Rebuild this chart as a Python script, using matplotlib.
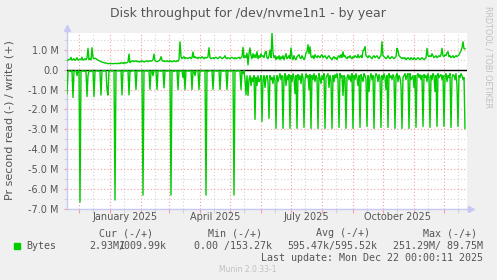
"""
Munin style disk throughput graph (by year)
"""
import numpy as np
import matplotlib.pyplot as plt
import matplotlib.dates as mdates
from matplotlib.ticker import FixedLocator, FuncFormatter

W, H = 497, 280

# first daily sample of the graph, one sample per day
start = np.datetime64('2024-11-19')

# bytes written per second, in M (one row = one week)
write_mb = [
    0.45, 0.48, 0.52, 0.50, 0.62, 0.48, 0.50,
    0.55, 0.47, 0.50, 0.60, 0.48, 0.50, 0.52,
    0.50, 0.62, 0.48, 0.50, 0.55, 0.50, 0.58,
    1.07, 0.50, 0.55, 0.50, 1.10, 0.60, 0.55,
    0.58, 0.55, 0.50, 0.48, 0.45, 0.42, 0.40,
    0.38, 0.36, 0.35, 0.33, 0.33, 0.32, 0.30,
    0.31, 0.30, 0.30, 0.31, 0.30, 0.30, 0.32,
    0.30, 0.31, 0.30, 0.33, 0.30, 0.35, 0.32,
    0.35, 0.30, 0.36, 0.33, 0.35, 0.38, 0.78,
    0.35, 0.40, 0.42, 0.45, 0.40, 0.42, 0.45,
    0.40, 0.42, 0.38, 0.42, 0.40, 0.45, 0.42,
    0.38, 0.40, 0.42, 0.45, 0.40, 0.42, 0.45,
    0.42, 0.45, 0.50, 0.78, 0.45, 0.42, 0.40,
    0.42, 0.45, 0.50, 0.65, 0.48, 0.42, 0.45,
    0.40, 0.42, 0.45, 0.40, 0.42, 0.45, 0.40,
    0.42, 0.40, 0.45, 0.42, 0.40, 0.45, 0.42,
    0.50, 1.40, 0.65, 0.55, 0.60, 0.65, 0.55,
    0.60, 0.58, 0.55, 0.60, 0.62, 0.55, 0.60,
    0.89, 0.60, 0.65, 0.58, 0.60, 0.55, 0.62,
    0.60, 0.58, 0.65, 0.60, 0.55, 0.62, 0.58,
    0.60, 0.65, 1.10, 0.60, 0.55, 0.58, 0.60,
    0.55, 0.60, 0.62, 0.58, 0.55, 0.60, 0.65,
    0.60, 0.55, 0.58, 0.62, 0.70, 0.58, 0.55,
    0.60, 0.58, 0.55, 0.60, 0.62, 0.58, 0.55,
    0.60, 0.55, 0.58, 0.60, 0.62, 0.55, 0.60,
    0.65, 1.12, 0.60, 0.70, 0.60, 0.83, 0.24,
    0.80, 1.09, 0.70, 0.55, 0.80, 0.60, 0.75,
    0.60, 0.90, 0.55, 0.70, 0.60, 0.80, 0.65,
    0.70, 0.60, 0.85, 0.92, 0.60, 0.55, 0.70,
    0.98, 0.60, 1.84, 0.85, 0.60, 0.70, 0.50,
    0.65, 0.55, 0.70, 0.50, 0.65, 0.55, 0.70,
    0.50, 0.65, 0.80, 0.55, 0.60, 0.70, 0.55,
    1.09, 0.65, 0.50, 0.70, 0.55, 0.50, 0.65,
    0.70, 0.75, 0.60, 0.55, 0.70, 0.60, 0.50,
    0.60, 0.85, 0.90, 1.25, 0.80, 1.15, 0.65,
    0.60, 0.70, 0.55, 0.75, 0.65, 0.60, 0.70,
    0.65, 0.60, 0.70, 0.75, 0.60, 0.65, 0.70,
    0.60, 0.55, 0.65, 0.70, 0.60, 0.55, 0.50,
    0.60, 0.65, 0.55, 0.60, 0.50, 0.65, 0.70,
    0.60, 0.75, 0.60, 0.90, 0.65, 0.70, 0.60,
    0.55, 0.65, 0.60, 0.70, 0.60, 0.55, 0.65,
    0.60, 0.70, 0.65, 0.60, 0.75, 0.60, 0.65,
    0.70, 0.60, 0.95, 1.00, 1.15, 0.70, 0.65,
    0.60, 0.70, 0.65, 0.60, 0.55, 0.65, 0.70,
    0.60, 0.65, 0.70, 0.60, 0.55, 0.65, 0.70,
    1.40, 0.70, 0.65, 0.60, 0.55, 0.60, 0.70,
    0.60, 0.55, 0.60, 0.65, 0.60, 0.55, 0.60,
    0.65, 1.07, 0.95, 0.70, 0.65, 0.60, 0.55,
    0.60, 0.55, 0.60, 0.50, 0.55, 0.60, 0.55,
    0.50, 0.60, 0.55, 0.50, 0.60, 0.55, 0.50,
    0.55, 0.60, 0.55, 0.50, 0.55, 0.60, 0.55,
    0.50, 0.55, 0.60, 1.07, 0.70, 0.65, 0.70,
    0.65, 0.80, 0.70, 0.60, 0.65, 0.70, 0.60,
    0.65, 0.70, 0.65, 0.75, 1.07, 0.70, 0.65,
    0.75, 0.70, 0.85, 0.90, 0.65, 0.70, 0.60,
    0.65, 0.70, 0.60, 0.65, 0.70, 0.65, 0.70,
    0.75, 0.85, 0.95, 1.10, 1.40, 1.05, 1.05,
]

# bytes read per second, in M (drawn below zero)
read_mb = [
    1.20, 0.10, 0.05, 0.08, 0.10, 0.05, 1.40,
    0.10, 0.06, 0.05, 0.30, 0.08, 0.05, 6.65,
    0.10, 0.05, 0.08, 0.06, 0.10, 0.05, 1.35,
    0.30, 0.08, 0.05, 0.10, 0.06, 0.05, 1.35,
    0.10, 0.05, 0.06, 0.08, 0.05, 0.10, 1.28,
    0.06, 0.05, 0.08, 0.05, 0.06, 1.00, 1.28,
    0.05, 0.06, 0.05, 0.08, 0.05, 0.06, 6.55,
    0.08, 0.05, 0.06, 0.05, 0.07, 0.05, 1.27,
    0.05, 0.06, 0.05, 0.08, 0.05, 0.06, 1.27,
    0.05, 0.10, 0.05, 0.06, 0.05, 0.08, 1.00,
    0.06, 0.05, 0.08, 0.05, 0.06, 0.05, 6.30,
    0.05, 0.06, 0.05, 0.08, 0.05, 0.06, 1.00,
    0.08, 0.05, 0.30, 0.06, 0.05, 0.06, 1.00,
    0.05, 0.06, 0.05, 0.08, 0.05, 0.06, 0.92,
    0.06, 0.05, 0.08, 0.05, 0.06, 0.05, 6.30,
    0.06, 0.05, 0.10, 0.05, 0.06, 0.05, 1.00,
    0.05, 0.08, 0.05, 0.06, 0.40, 0.05, 1.00,
    0.05, 0.06, 0.05, 0.08, 0.05, 0.06, 1.00,
    0.05, 0.08, 0.30, 0.06, 0.05, 0.06, 1.00,
    0.06, 0.05, 0.08, 0.05, 0.06, 0.05, 6.30,
    0.06, 0.10, 0.05, 0.06, 0.05, 0.08, 1.00,
    0.05, 0.06, 0.05, 0.08, 0.05, 0.06, 1.00,
    0.06, 0.05, 0.08, 0.05, 0.06, 0.05, 1.00,
    0.05, 0.06, 0.05, 0.08, 0.05, 0.06, 6.30,
    0.06, 0.05, 0.08, 0.05, 0.06, 0.05, 1.00,
    0.10, 0.20, 0.05, 0.50, 1.27, 0.30, 1.30,
    0.50, 0.30, 0.80, 0.40, 0.60, 0.30, 2.50,
    0.40, 0.80, 0.30, 0.60, 0.50, 0.30, 2.60,
    0.50, 0.30, 0.90, 0.40, 0.30, 0.60, 2.45,
    0.30, 0.50, 0.40, 0.70, 0.30, 0.50, 2.95,
    0.30, 0.60, 0.40, 0.20, 0.50, 0.30, 2.95,
    0.40, 0.20, 0.80, 0.30, 0.50, 0.25, 2.95,
    0.30, 0.60, 0.20, 0.40, 1.20, 0.30, 2.95,
    0.25, 0.50, 0.30, 0.70, 0.20, 0.40, 2.90,
    0.50, 0.20, 0.40, 0.30, 1.00, 0.25, 2.95,
    0.30, 0.50, 0.20, 0.60, 0.30, 0.40, 2.95,
    0.20, 0.40, 0.70, 0.30, 0.50, 0.20, 2.95,
    0.40, 0.30, 0.20, 0.90, 0.30, 0.50, 2.95,
    0.30, 0.60, 0.25, 0.40, 0.20, 0.50, 2.90,
    0.20, 0.40, 0.30, 1.30, 0.30, 0.40, 2.95,
    0.40, 0.25, 0.50, 0.30, 0.60, 0.20, 2.95,
    0.30, 0.50, 0.20, 0.40, 0.80, 0.30, 2.90,
    0.25, 0.40, 0.60, 0.20, 0.30, 0.50, 2.85,
    0.30, 1.10, 0.40, 0.20, 0.50, 0.30, 2.95,
    0.40, 0.20, 0.30, 0.60, 0.25, 0.40, 2.90,
    0.30, 0.50, 0.20, 0.40, 1.00, 0.30, 2.90,
    0.20, 0.40, 0.30, 0.50, 0.25, 0.40, 2.95,
    0.30, 0.20, 0.60, 0.30, 0.40, 0.80, 2.95,
    0.40, 0.30, 0.20, 0.50, 0.30, 0.20, 2.95,
    0.20, 0.50, 0.40, 0.30, 0.90, 0.30, 2.90,
    0.30, 0.20, 0.40, 0.25, 0.50, 0.30, 2.85,
    0.25, 0.40, 0.30, 0.60, 0.20, 0.40, 2.90,
    0.30, 0.50, 0.20, 0.30, 1.10, 0.30, 2.85,
    0.20, 0.40, 0.30, 0.25, 0.50, 0.30, 2.85,
    0.30, 0.20, 0.60, 0.30, 0.40, 0.20, 2.90,
    0.40, 0.25, 0.30, 0.50, 0.20, 0.80, 2.85,
    0.30, 0.40, 0.20, 0.30, 0.50, 0.40, 2.95,
]

month_labels = ['January 2025', 'April 2025', 'July 2025', 'October 2025']
label_dates = ['2025-01-16', '2025-04-16', '2025-07-16', '2025-10-16']

legend_head = ['Cur (-/+)', 'Min (-/+)', 'Avg (-/+)', 'Max (-/+)']
legend_vals = ['0.00 /153.27k', '595.47k/595.52k', '251.29M/ 89.75M']
last_update = 'Last update: Mon Dec 22 00:00:11 2025'

days = start + np.arange(len(write_mb)).astype('timedelta64[D]')
write = np.array(write_mb)
read = np.array(read_mb)

green = '#00CC00'
txt = '#555555'
mgrid = '#F0A0A0'
grid = '#D4D4D4'
axcol = '#C8C8F4'

fig = plt.figure(figsize=(W / 100, H / 100), dpi=100, facecolor='#F0F0F0')
ax = fig.add_axes([67 / W, 1 - 209 / H, 400 / W, 176 / H])
ax.set_facecolor('white')

ax.set_xlim(start, start + np.timedelta64(400, 'D'))
ax.set_ylim(-7.0, 1.84)

# grid
ax.xaxis.set_major_locator(mdates.MonthLocator())
ax.xaxis.set_minor_locator(mdates.MonthLocator(bymonthday=15))
ax.yaxis.set_major_locator(FixedLocator(np.arange(-7, 2)))
ax.yaxis.set_minor_locator(FixedLocator(np.arange(-6.5, 2, 1)))
ax.grid(which='major', color=mgrid, linestyle=(0, (1, 2)), lw=0.8)
ax.grid(which='minor', color=grid, linestyle=(0, (1, 2)), lw=0.8)
ax.set_axisbelow(True)
ax.xaxis.set_major_formatter(FuncFormatter(lambda v, p: ''))
ax.yaxis.set_major_formatter(FuncFormatter(lambda v, p: '0.0' if v == 0 else f'{v:.1f} M'))
ax.tick_params(which='major', axis='x', length=3, color=mgrid, width=0.8)
ax.tick_params(which='minor', axis='x', length=3, color=grid, width=0.8)
ax.tick_params(which='major', axis='y', length=2, color=mgrid, width=0.8,
               labelsize=7, labelcolor=txt, pad=4)
ax.tick_params(which='minor', axis='y', length=2, color=grid, width=0.8)

for s in ['top', 'right']:
    ax.spines[s].set_visible(False)
for s in ['left', 'bottom']:
    ax.spines[s].set_color(axcol)
    ax.spines[s].set_linewidth(1)

# axis arrows
ax.plot([0, 0], [1, 1.03], color=axcol, lw=1, transform=ax.transAxes, clip_on=False)
ax.plot([0], [1.03], marker='^', ms=4, color=axcol, transform=ax.transAxes, clip_on=False)
ax.plot([1, 1.01], [0, 0], color=axcol, lw=1, transform=ax.transAxes, clip_on=False)
ax.plot([1.01], [0], marker='>', ms=4, color=axcol, transform=ax.transAxes, clip_on=False)

ax.axhline(0, color='black', lw=1, zorder=3)
ax.plot(days, write, color=green, lw=1, zorder=4)
ax.plot(days, -read, color=green, lw=1, zorder=4)

for lab, d in zip(month_labels, label_dates):
    ax.text(np.datetime64(d), -0.044, lab, transform=ax.get_xaxis_transform(),
            ha='center', va='center', fontsize=7, color=txt)

def px(x, y):
    return x / W, 1 - y / H

fig.text(*px(248, 14), 'Disk throughput for /dev/nvme1n1 - by year',
         ha='center', va='center', fontsize=9, color=txt)
fig.text(*px(10, 120), 'Pr second read (-) / write (+)', rotation=90,
         ha='center', va='center', fontsize=8, color=txt)
fig.text(*px(488, 57), 'RRDTOOL / TOBI OETIKER', rotation=270,
         ha='center', va='center', fontsize=5.8, color='#C0C0C0')

mono = dict(family='DejaVu Sans Mono', fontsize=7.2, color=txt, va='center')
for h, x in zip(legend_head, [99, 207.7, 315.7, 423.3]):
    fig.text(*px(x, 233.3), h, ha='left', **mono)
fig.patches.append(plt.Rectangle(px(14, 248.5), 6 / W, 6 / H, color=green,
                                 transform=fig.transFigure, figure=fig))
fig.text(*px(26.7, 245.7), 'Bytes', ha='left', **mono)
# rrdtool prints the two current values into overlapping columns
fig.text(*px(89.7, 245.7), '2.93M/', ha='left', **mono)
fig.text(*px(166.7, 245.7), '1009.99k', ha='right', **mono)
for v, x in zip(legend_vals, [194.3, 287.7, 392.7]):
    fig.text(*px(x, 245.7), v, ha='left', **mono)
fig.text(*px(482.7, 257.7), last_update, ha='right', **mono)
fig.text(*px(219, 269), 'Munin 2.0.33-1', ha='left', va='center',
         fontsize=5.5, color='#C0C0C0')

fig.savefig('out.png', dpi=100, facecolor=fig.get_facecolor())
